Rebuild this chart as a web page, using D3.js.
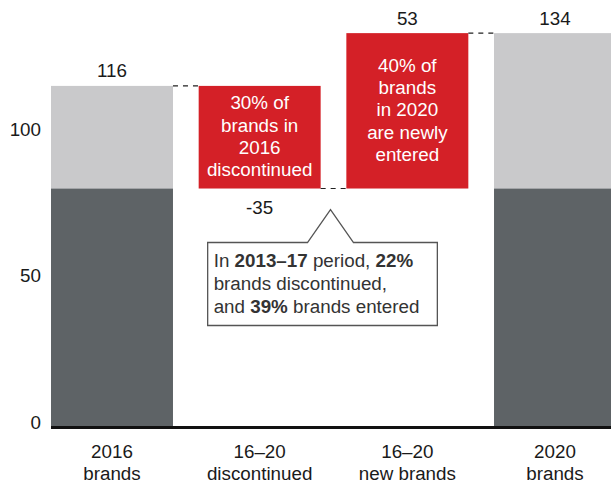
<!DOCTYPE html>
<html>
<head>
<meta charset="utf-8">
<script src="https://cdn.jsdelivr.net/npm/d3@7"></script>
<style>
  html, body { margin: 0; padding: 0; background: #fff; }
  svg { display: block; font-family: "Liberation Sans", Arial, Helvetica, sans-serif; }
</style>
</head>
<body>
<svg id="chart" width="611" height="483"></svg>
<script>
// Brand count waterfall, 2016 -> 2020
const categories = ["2016 brands", "16–20 discontinued", "16–20 new brands", "2020 brands"];
const categoryLines = [["2016", "brands"], ["16–20", "discontinued"], ["16–20", "new brands"], ["2020", "brands"]];
const brands2016 = 116;
const discontinued = -35;
const newBrands = 53;
const brands2020 = 134;
const yTicks = [0, 50, 100];
const discNote = ["30% of", "brands in", "2016", "discontinued"];
const newNote = ["40% of", "brands", "in 2020", "are newly", "entered"];

const retained = brands2016 + discontinued;   // brands present in both years

const COLORS = { dark: "#5e6366", light: "#c9c9cb", red: "#d42027", text: "#1a1a1a", note: "#333" };
const FS = 18.8;

const svg = d3.select("#chart");

const x = d3.scaleBand().domain(categories).range([51, 616]).paddingInner(0.174).paddingOuter(0);
const y = d3.scaleLinear().domain([0, 145.3]).range([426, 0]);
const bw = x.bandwidth();

// Stacked total bars: retained (dark) + changed part (light)
const totals = [
  { cat: categories[0], total: brands2016 },
  { cat: categories[3], total: brands2020 }
];
totals.forEach(d => {
  svg.append("rect").attr("x", x(d.cat)).attr("width", bw)
    .attr("y", y(d.total)).attr("height", y(retained) - y(d.total)).attr("fill", COLORS.light);
  svg.append("rect").attr("x", x(d.cat)).attr("width", bw)
    .attr("y", y(retained)).attr("height", y(0) - y(retained)).attr("fill", COLORS.dark);
});

// Floating change bars
const deltas = [
  { cat: categories[1], from: brands2016, to: brands2016 + discontinued, note: discNote },
  { cat: categories[2], from: retained, to: retained + newBrands, note: newNote }
];
deltas.forEach(d => {
  const top = y(Math.max(d.from, d.to)), bot = y(Math.min(d.from, d.to));
  svg.append("rect").attr("x", x(d.cat)).attr("width", bw)
    .attr("y", top).attr("height", bot - top).attr("fill", COLORS.red);
  const cy = (top + bot) / 2, lh = 22.4;
  const first = cy - (d.note.length - 1) / 2 * lh + 5.5;
  const t = svg.append("text").attr("text-anchor", "middle").attr("fill", "#fff")
    .attr("font-size", FS);
  d.note.forEach((s, i) => {
    t.append("tspan").attr("x", x(d.cat) + bw / 2).attr("y", first + i * lh).text(s);
  });
});

// Dashed connectors between consecutive bars
const levels = [brands2016, retained, brands2020];
levels.forEach((v, i) => {
  svg.append("line")
    .attr("x1", x(categories[i]) + bw).attr("x2", x(categories[i + 1]))
    .attr("y1", y(v)).attr("y2", y(v))
    .attr("stroke", "#222").attr("stroke-width", 1.2).attr("stroke-dasharray", "5,5");
});

// Value labels
const valueLabels = [
  { cat: categories[0], text: String(brands2016), y: y(brands2016) - 8.7 },
  { cat: categories[1], text: String(discontinued), y: y(retained) + 25 },
  { cat: categories[2], text: String(newBrands), y: y(brands2020) - 8.6 },
  { cat: categories[3], text: String(brands2020), y: y(brands2020) - 8.6 }
];
svg.selectAll("text.value").data(valueLabels).join("text").attr("class", "value")
  .attr("x", d => x(d.cat) + bw / 2).attr("y", d => d.y)
  .attr("text-anchor", "middle").attr("font-size", FS).attr("fill", COLORS.text)
  .text(d => d.text);

// Y axis labels (no axis line)
const yAxis = d3.axisLeft(y).tickValues(yTicks).tickSize(0).tickPadding(0);
const gy = svg.append("g").attr("transform", "translate(41,-3.5)").call(yAxis);
gy.select(".domain").remove();
gy.selectAll("text").attr("font-size", FS).attr("fill", COLORS.text)
  .attr("font-family", "Liberation Sans, Arial, sans-serif");

// Baseline
svg.append("line").attr("x1", 51).attr("x2", 611).attr("y1", y(0) + 1.5).attr("y2", y(0) + 1.5)
  .attr("stroke", "#111").attr("stroke-width", 3);

// Category labels (two lines each)
categories.forEach((c, i) => {
  const t = svg.append("text").attr("text-anchor", "middle").attr("font-size", FS).attr("fill", COLORS.text);
  categoryLines[i].forEach((s, j) => {
    t.append("tspan").attr("x", x(c) + bw / 2).attr("y", 458 + j * 21.8).text(s);
  });
});

// Callout about the 2013–17 period
const gapMid = (x(categories[1]) + bw + x(categories[2])) / 2 - 3;
const apexY = y(retained) + 21;
const boxTop = apexY + 33, boxBot = boxTop + 83;
const boxL = x(categories[1]) + 9, boxR = x(categories[2]) + 91;
const path = [
  [boxL, boxTop], [gapMid - 23, boxTop], [gapMid, apexY], [gapMid + 23, boxTop],
  [boxR, boxTop], [boxR, boxBot], [boxL, boxBot]
];
svg.append("path").attr("d", d3.line()(path) + "Z")
  .attr("fill", "#fff").attr("stroke", "#555").attr("stroke-width", 1.3);

const calloutLines = [
  [["In ", false], ["2013–17", true], [" period, ", false], ["22%", true]],
  [["brands discontinued,", false]],
  [["and ", false], ["39%", true], [" brands entered", false]]
];
const ct = svg.append("text").attr("font-size", FS).attr("fill", COLORS.note);
calloutLines.forEach((line, i) => {
  line.forEach(([s, bold], k) => {
    const sp = ct.append("tspan").text(s).attr("font-weight", bold ? "bold" : "normal");
    if (k === 0) sp.attr("x", boxL + 6).attr("y", boxTop + 24 + i * 23);
  });
});
</script>
</body>
</html>
